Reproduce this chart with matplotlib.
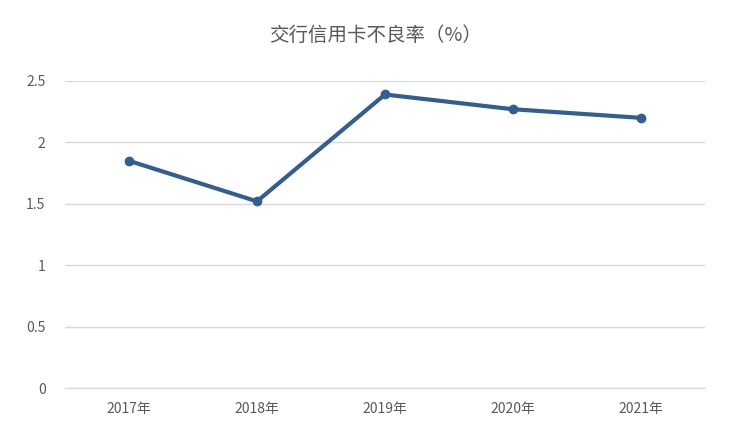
import matplotlib
matplotlib.use("Agg")
import matplotlib.pyplot as plt

plt.rcParams['font.family'] = ['Noto Sans CJK SC', 'DejaVu Sans']

years = ["2017年", "2018年", "2019年", "2020年", "2021年"]
rates = [1.85, 1.52, 2.39, 2.27, 2.20]
yticks = [0, 0.5, 1, 1.5, 2, 2.5]
yticklabels = ["0", "0.5", "1", "1.5", "2", "2.5"]

fig = plt.figure(figsize=(7.51, 4.44), dpi=100)
ax = fig.add_axes([0.0866, 0.126, 0.852, 0.6916])
x = list(range(len(years)))
ax.plot(x, rates, color="#335e92", linewidth=3, marker="o", markersize=6)
ax.set_xlim(-0.5, 4.5)
ax.set_ylim(0, 2.5)
ax.set_yticks(yticks)
ax.set_yticklabels(yticklabels)
ax.set_xticks(x)
ax.set_xticklabels(years)
ax.grid(axis="y", color="#d9d9d9", linewidth=1)
ax.set_axisbelow(True)
for s in ["top", "right", "left"]:
    ax.spines[s].set_visible(False)
ax.spines["bottom"].set_color("#d9d9d9")
ax.tick_params(length=0, labelsize=10, colors="#595959", pad=10)
ax.tick_params(axis="y", pad=14)
fig.text(0.5, 0.92, "交行信用卡不良率（%）", ha="center", va="center", fontsize=14, color="#595959")
fig.savefig("out.png", dpi=100)
